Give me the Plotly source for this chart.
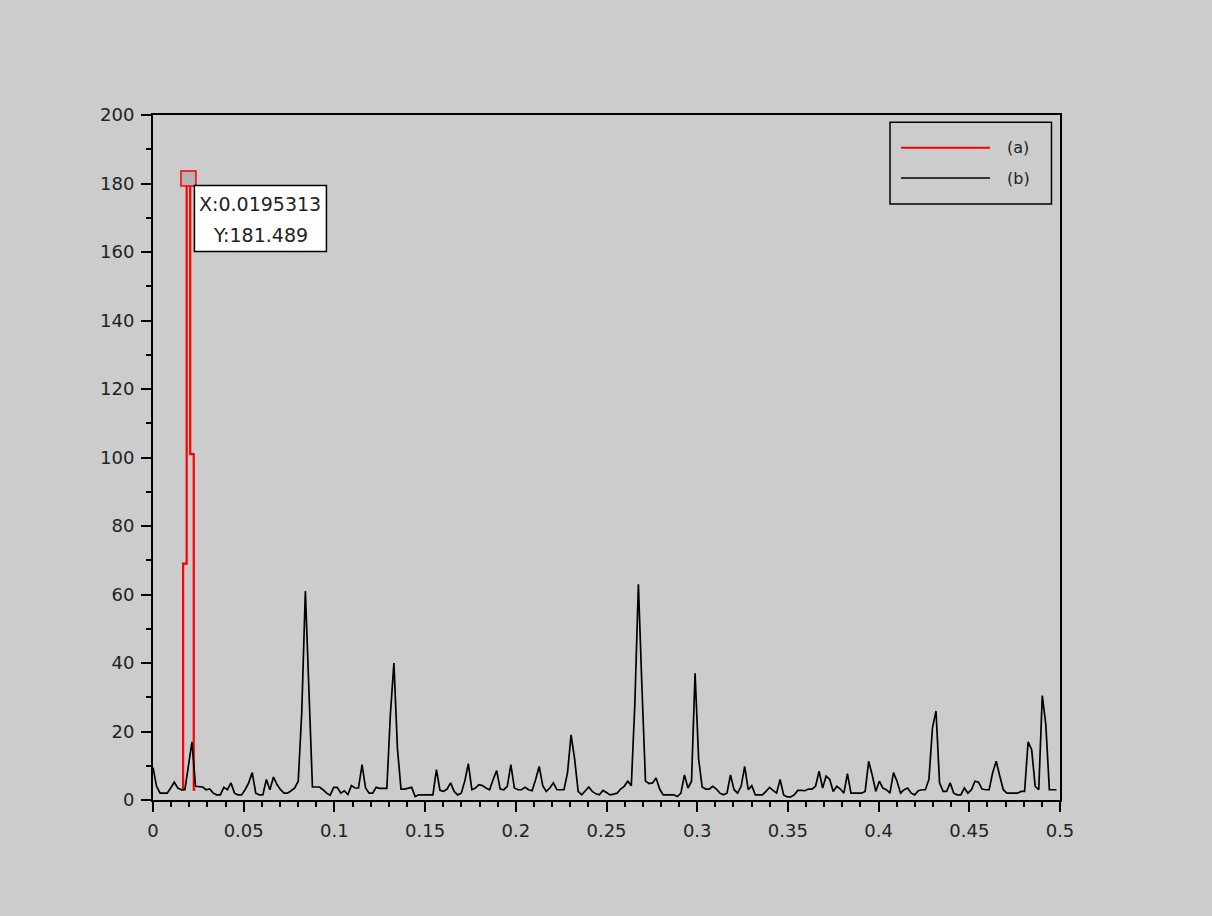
import plotly.graph_objects as go

# ---------------- data ----------------
BIN = 1 / 512  # frequency resolution of the spectrum
amp_b = [9.5, 4, 2, 2, 2, 3.5, 5.2, 3.5, 3, 3,
         10, 17, 4, 3.8, 3.8, 3, 3.2, 2, 1.5, 1.5,
         3.7, 3, 5, 2, 1.5, 1.5, 3, 5, 8, 2,
         1.5, 1.5, 6, 3, 6.7, 4.5, 3, 2, 2, 2.7,
         3.5, 5.5, 26, 61, 33, 3.8, 3.8, 3.8, 3, 2,
         1.4, 3.7, 3.7, 2, 2.7, 1.6, 4.2, 3.5, 3.5, 10.3,
         3.5, 2, 2, 3.7, 3.4, 3.4, 3.4, 25, 40, 15,
         3.2, 3.2, 3.5, 3.7, 1, 1.5, 1.5, 1.5, 1.5, 1.5,
         8.9, 2.8, 2.5, 3.2, 5, 2.5, 1.5, 2, 5.5, 10.6,
         3, 3.5, 4.5, 4.2, 3.5, 3, 6, 8.6, 3.2, 3,
         4, 10.3, 3.5, 3, 3, 3.7, 3, 2.7, 6, 9.8,
         4.2, 2.5, 3.5, 5, 3, 3, 3, 8, 19, 12,
         2.5, 1.5, 2.5, 3.8, 2.5, 1.8, 1.5, 2.8, 2.2, 1.5,
         1.7, 2, 3.2, 4, 5.5, 4.2, 28, 63, 33, 5.5,
         4.8, 5, 6.4, 3.2, 1.5, 1.5, 1.5, 1.5, 1, 2,
         7.3, 3.5, 5.5, 37, 12, 3.8, 3.2, 3.2, 4, 3.2,
         2, 1.5, 2, 7.3, 3, 2, 4, 9.8, 3, 4.2,
         1.5, 1.5, 1.5, 2.5, 3.7, 2.8, 2, 6, 1.5, 0.9,
         0.9, 1.5, 2.8, 2.8, 2.7, 3.2, 3.2, 4, 8.4, 3.5,
         7, 6, 2.5, 4, 3.2, 2, 7.7, 2, 2, 2,
         2, 2.5, 11.3, 7.3, 2.5, 5.5, 3.5, 3, 2, 8,
         5.5, 2, 3, 3.5, 2, 1.5, 2.7, 3, 3, 6,
         21, 26, 5, 2.5, 2.5, 5, 2, 1.5, 1.5, 3.5,
         2, 3, 5.5, 5.2, 3.2, 3, 3, 8, 11.3, 7,
         3, 2, 2, 2, 2, 2.5, 2.5, 17, 14.7, 4,
         3, 30.5, 22, 3, 3, 3]
freq_b = [k * BIN for k in range(len(amp_b))]

freq_a = [0.015625, 0.0175781, 0.0195313, 0.0214844, 0.0234375]
amp_a = [3, 69, 181.489, 101, 3]
tip_index = 2

series_names = ["(a)", "(b)"]
series_colors = ["#ff0000", "#000000"]

x_tick_vals = [0, 0.05, 0.1, 0.15, 0.2, 0.25, 0.3, 0.35, 0.4, 0.45, 0.5]
x_tick_text = ["0", "0.05", "0.1", "0.15", "0.2", "0.25", "0.3", "0.35", "0.4", "0.45", "0.5"]
y_tick_vals = [0, 20, 40, 60, 80, 100, 120, 140, 160, 180, 200]
y_tick_text = ["0", "20", "40", "60", "80", "100", "120", "140", "160", "180", "200"]

# ---------------- figure ----------------
BG = "#cccccc"
FONT = "DejaVu Sans"
TXT = "#222222"
fig = go.Figure()

fig.add_trace(go.Scatter(x=freq_a, y=amp_a, mode="lines", name=series_names[0],
                         line=dict(color=series_colors[0], width=2.2, shape="hvh"),
                         showlegend=False, hoverinfo="skip"))
fig.add_trace(go.Scatter(x=freq_b, y=amp_b, mode="lines", name=series_names[1],
                         line=dict(color=series_colors[1], width=1.7),
                         showlegend=False, hoverinfo="skip"))

tx, ty = freq_a[tip_index], amp_a[tip_index]
fig.add_trace(go.Scatter(x=[tx], y=[ty], mode="markers", showlegend=False, hoverinfo="skip",
                         marker=dict(symbol="square", size=15, color="#b3b3b3",
                                     line=dict(color="#ff0000", width=1.5))))

# datatip box
fig.add_shape(type="rect", xref="x", yref="y", xsizemode="pixel", ysizemode="pixel",
              xanchor=tx, yanchor=ty, x0=6, x1=138, y0=-7, y1=-73,
              line=dict(color="black", width=1.5), fillcolor="white", layer="above")
fig.add_annotation(x=tx, y=ty, xref="x", yref="y", showarrow=False,
                   text=f"X:{tx:.6g}", xshift=72, yshift=-25.5,
                   font=dict(family=FONT, size=19, color=TXT),
                   xanchor="center", yanchor="middle")
fig.add_annotation(x=tx, y=ty, xref="x", yref="y", showarrow=False,
                   text=f"Y:{ty:.6g}", xshift=72, yshift=-56.5,
                   font=dict(family=FONT, size=19, color=TXT),
                   xanchor="center", yanchor="middle")

# legend (drawn manually to match long sample lines)
fig.add_shape(type="rect", xref="paper", yref="paper", x0=0.8126, x1=0.9906, y0=0.8701, y1=0.9893,
              line=dict(color="black", width=1.5), fillcolor=BG, layer="above")
leg_y = [0.9523, 0.9080]
for name, color, yy in zip(series_names, series_colors, leg_y):
    fig.add_shape(type="line", xref="paper", yref="paper", x0=0.8247, x1=0.9228, y0=yy, y1=yy,
                  line=dict(color=color, width=2 if color != "#000000" else 1.5), layer="above")
    fig.add_annotation(x=0.9394, y=yy, xref="paper", yref="paper", text=name, showarrow=False,
                       xanchor="left", yanchor="middle",
                       font=dict(family=FONT, size=16, color=TXT))

axis_common = dict(showgrid=False, zeroline=False, showline=True, linecolor="black", linewidth=2,
                   mirror=True, ticks="outside", tickcolor="black", tickwidth=1.5,
                   tickfont=dict(family=FONT, size=18, color=TXT))
fig.update_xaxes(range=[0, 0.5], tickmode="array", tickvals=x_tick_vals, ticktext=x_tick_text,
                 ticklen=10, minor=dict(tickmode="linear", tick0=0, dtick=0.01, ticks="outside",
                                        ticklen=5, tickwidth=1.5, tickcolor="black"),
                 ticklabelstandoff=3, **axis_common)
fig.update_yaxes(range=[0, 200], tickmode="array", tickvals=y_tick_vals, ticktext=y_tick_text,
                 ticklen=10, minor=dict(tickmode="linear", tick0=0, dtick=10, ticks="outside",
                                        ticklen=5, tickwidth=1.5, tickcolor="black"),
                 ticklabelstandoff=3, **axis_common)

fig.update_layout(width=1212, height=916, margin=dict(l=153, r=152, t=115, b=116),
                  paper_bgcolor=BG, plot_bgcolor=BG, showlegend=False,
                  font=dict(family=FONT, size=18, color=TXT))

fig.write_html("out.html", config={"displayModeBar": False},
               post_script="document.body.style.margin='0';document.body.style.overflow='hidden';")
